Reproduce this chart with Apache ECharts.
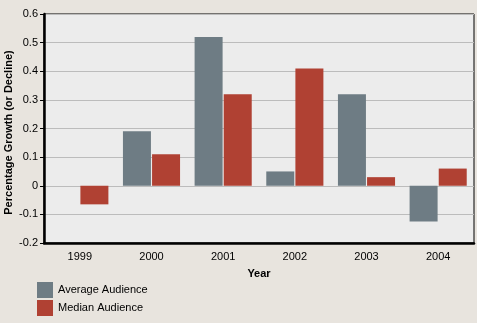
<!DOCTYPE html>
<html><head><meta charset="utf-8">
<script src="https://cdn.jsdelivr.net/npm/echarts@6/dist/echarts.min.js"></script>
<style>html,body{margin:0;padding:0;background:#e8e4de}#c{width:477px;height:323px}</style>
</head><body><div id="c"></div>
<script>
var years = ['1999','2000','2001','2002','2003','2004'];
var averageAudience = [null, 0.19, 0.52, 0.05, 0.32, -0.125];
var medianAudience = [-0.065, 0.11, 0.32, 0.41, 0.03, 0.06];
var yTicks = {min: -0.2, max: 0.6, step: 0.1};

var chart = echarts.init(document.getElementById('c'), null, {renderer: 'canvas'});
var font = 'Liberation Sans, Arial, sans-serif';
function legendFor(name, top) {
  return {
    left: 32, top: top, itemWidth: 16, itemHeight: 16, icon: 'rect',
    textStyle: {fontFamily: font, fontSize: 11, color: '#000'},
    data: [name]
  };
}
chart.setOption({
  backgroundColor: '#e8e4de',
  animation: false,
  textStyle: {fontFamily: font},
  grid: {left: 44, top: 14, right: 3, bottom: 80, outerBoundsMode: 'none', containLabel: false,
    show: true, backgroundColor: '#ececec', borderColor: '#000', borderWidth: 1},
  legend: [legendFor('Average Audience', 277), legendFor('Median Audience', 295)],
  xAxis: {
    type: 'category', data: years,
    name: 'Year', nameLocation: 'middle', nameGap: 25, nameMoveOverlap: false,
    nameTextStyle: {fontFamily: font, fontSize: 11, fontWeight: 'bold', color: '#000'},
    axisLine: {onZero: false, lineStyle: {color: '#000', width: 2.5}},
    axisTick: {alignWithLabel: true, length: 4, lineStyle: {color: '#000'}},
    axisLabel: {fontFamily: font, fontSize: 11, color: '#000', margin: 8},
    splitLine: {show: false}
  },
  yAxis: {
    type: 'value', min: yTicks.min, max: yTicks.max, interval: yTicks.step,
    name: 'Percentage Growth (or Decline)', nameLocation: 'middle', nameGap: 30, nameMoveOverlap: false,
    nameTextStyle: {fontFamily: font, fontSize: 11, fontWeight: 'bold', color: '#000', padding: [0, 8, 0, 0]},
    axisLine: {show: true, lineStyle: {color: '#000', width: 2.5}},
    axisTick: {show: true, length: 4, lineStyle: {color: '#000'}},
    axisLabel: {fontFamily: font, fontSize: 11, color: '#000', margin: 6,
      formatter: function(v){ return String(+v.toFixed(1)); }},
    splitLine: {lineStyle: {color: '#bcbcbc', width: 1}}
  },
  series: [
    {name: 'Average Audience', type: 'bar', data: averageAudience, barWidth: 28, barGap: '4%',
     itemStyle: {color: '#6e7c84'}},
    {name: 'Median Audience', type: 'bar', data: medianAudience, barWidth: 28,
     itemStyle: {color: '#b04133'}}
  ]
});
</script></body></html>
